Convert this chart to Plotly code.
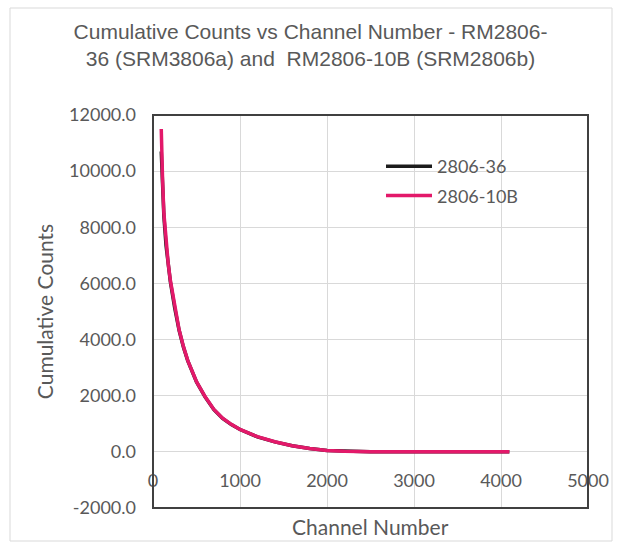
import plotly.graph_objects as go

channels = [95, 100, 110, 125, 150, 175, 200, 250, 300, 350, 400, 500, 600, 700, 800,
            900, 1000, 1200, 1400, 1600, 1800, 2000, 2200, 2500, 3000, 3500, 4000, 4096]
counts_36 = [10700, 10300, 9500, 8400, 7350, 6650, 6050, 5120, 4330, 3730, 3240, 2490, 1950,
             1500, 1190, 970, 795, 535, 355, 218, 118, 50, 20, 5, 0, 0, 0, 0]
counts_10b = [11500, 10600, 9700, 8500, 7400, 6700, 6100, 5150, 4350, 3750, 3250, 2500, 1960,
              1510, 1200, 980, 800, 540, 360, 220, 120, 52, 20, 5, 0, 0, 0, 0]

y_tick_vals = [-2000, 0, 2000, 4000, 6000, 8000, 10000, 12000]
y_tick_labels = ["-2000.0", "0.0", "2000.0", "4000.0", "6000.0", "8000.0", "10000.0", "12000.0"]

title_lines = ["Cumulative Counts vs Channel Number - RM2806-",
               "36 (SRM3806a) and  RM2806-10B (SRM2806b)"]

W, H = 621, 542
L, R, T, B = 153, 588, 115, 508
GREY = "#595959"

fig = go.Figure()
fig.add_trace(go.Scatter(x=channels, y=counts_36, mode="lines", name="2806-36",
                         legendgroup="a", line=dict(color="#1c1c1c", width=3.5)))
fig.add_trace(go.Scatter(x=channels, y=counts_10b, mode="lines", name="2806-10B",
                         legendgroup="b", line=dict(color="#e3196a", width=3.5)))

def px_x(px):
    return (px - L) / (R - L)

def px_y(py):
    return (B - py) / (B - T)

fig.update_layout(
    width=W, height=H,
    margin=dict(l=L, r=W - R, t=T, b=H - B, autoexpand=False),
    paper_bgcolor="white", plot_bgcolor="white",
    showlegend=True,
    legend=dict(x=px_x(381), y=px_y(148), xanchor="left", yanchor="top",
                bgcolor="rgba(0,0,0,0)", font=dict(family="Lato", size=18, color=GREY),
                tracegroupgap=3, itemwidth=46),
    title=dict(text="<br>".join(title_lines), x=0.5, xref="container", xanchor="center",
               y=1 - 39 / H, yanchor="middle",
               font=dict(family="Liberation Sans", size=21, color=GREY)),
    xaxis=dict(range=[0, 5000], dtick=1000, showgrid=True, gridcolor="#d9d9d9", gridwidth=1,
               zeroline=False, showline=False, anchor="free", position=px_y(452),
               ticks="", ticklabelstandoff=16,
               tickfont=dict(family="Lato", size=18, color=GREY)),
    yaxis=dict(range=[-2000, 12000], tickmode="array", tickvals=y_tick_vals,
               ticktext=y_tick_labels, showgrid=True,
               gridcolor="#d9d9d9", gridwidth=1, zeroline=False, showline=False, ticks="",
               ticklabelstandoff=16,
               tickfont=dict(family="Lato", size=18, color=GREY),
               title=dict(text="Cumulative Counts", standoff=9,
                          font=dict(family="Lato", size=21, color=GREY))),
    annotations=[dict(text="Channel Number", x=0.5, xref="paper", y=px_y(526), yref="paper",
                      showarrow=False, xanchor="center", yanchor="middle",
                      font=dict(family="Lato", size=21, color=GREY))],
    shapes=[
        dict(type="rect", xref="paper", yref="paper", x0=0, x1=1, y0=0, y1=1,
             line=dict(color="#404040", width=2), layer="above"),
        dict(type="rect", xref="paper", yref="paper", x0=px_x(10), x1=px_x(612),
             y0=px_y(541), y1=px_y(8), line=dict(color="#d9d9d9", width=1)),
    ],
)

fig.write_html("out.html", config={"displayModeBar": False})

with open("out.html", "r", encoding="utf-8") as f:
    html = f.read()
html = html.replace("<head>", "<head><style>html,body{margin:0;padding:0;}</style>", 1)
with open("out.html", "w", encoding="utf-8") as f:
    f.write(html)
